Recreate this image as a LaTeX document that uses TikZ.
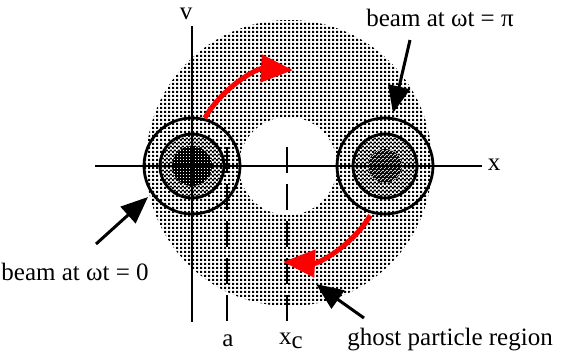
\documentclass[tikz,border=0pt]{standalone}
\usepackage{fontspec}
\setmainfont{Liberation Serif}
\usetikzlibrary{arrows.meta,patterns.meta}
\tikzdeclarepattern{
  name=sparsedots,
  type=colored,
  bottom left={(0pt,0pt)},
  top right={(4pt,4pt)},
  tile size={(4pt,4pt)},
  code={\fill[black] (0pt,0pt) rectangle (2.7pt,2.7pt);}
}
\tikzdeclarepattern{
  name=checkdots,
  type=colored,
  bottom left={(0pt,0pt)},
  top right={(4pt,4pt)},
  tile size={(4pt,4pt)},
  code={\fill[black] (0pt,0pt) rectangle (2.2pt,2.2pt);
        \fill[black] (2pt,2pt) rectangle (4.2pt,4.2pt);}
}
\tikzdeclarepattern{
  name=whitespecks,
  type=colored,
  bottom left={(0pt,0pt)},
  top right={(3pt,3pt)},
  tile size={(3pt,3pt)},
  code={\fill[white] (0pt,0pt) rectangle (1pt,1pt);}
}
\tikzdeclarepattern{
  name=whitehatch,
  type=colored,
  bottom left={(0pt,0pt)},
  top right={(4pt,4pt)},
  tile size={(4pt,4pt)},
  code={\draw[white,line width=0.8pt] (0pt,0pt) -- (4pt,4pt);}
}
\tikzset{
  lbl/.style={font=\fontsize{25}{29}\selectfont, inner sep=0pt},
  axisline/.style={line width=2.5pt},
  beamring/.style={line width=2.8pt},
  dashline/.style={line width=2.5pt, dash pattern=on 26pt off 11pt},
  redarrow/.style={red, line width=5pt, -{Triangle[length=32pt,width=27pt]}},
  blackarrow/.style={black, line width=3pt, -{Triangle[length=27pt,width=22pt]}}
}
\begin{document}
\begin{tikzpicture}[x=1pt,y=-1pt]
\useasboundingbox (0,0) rectangle (564,360);
% ghost particle region
\coordinate (cen) at (288,166);
\fill[pattern=sparsedots] (289,163) circle[radius=143];
\fill[white] (cen) circle[radius=49];
% left beam
\coordinate (lb) at (192,166);
\fill[white] (lb) circle[radius=48];
\fill[pattern=sparsedots] (lb) circle[radius=48];
\fill[white] (lb) circle[radius=32];
\fill[pattern=checkdots] (lb) circle[radius=32];
\fill[black] (lb) circle[radius=20];
\fill[pattern=whitespecks] (lb) circle[radius=20];
\draw[beamring] (lb) circle[radius=48];
\draw[beamring] (lb) circle[radius=32];
% right beam
\coordinate (rb) at (385,166);
\fill[white] (rb) circle[radius=48];
\fill[pattern=sparsedots] (rb) circle[radius=48];
\fill[white] (rb) circle[radius=32];
\fill[pattern=checkdots] (rb) circle[radius=32];
\fill[black] (rb) circle[radius=17];
\fill[pattern=whitehatch] (rb) circle[radius=17];
\draw[beamring] (rb) circle[radius=48];
\draw[beamring] (rb) circle[radius=32];
% dashed lines
\coordinate (atop) at (227,147);
\coordinate (abot) at (227,322);
\coordinate (ctop) at (287,147);
\coordinate (cbot) at (287,322);
\draw[dashline] (atop) -- (abot);
\draw[dashline] (ctop) -- (cbot);
% axes
\node[lbl] (v) at (186,14) {v};
\node[lbl] (x) at (494,165) {x};
\coordinate (vtop) at (192,26);
\coordinate (vbot) at (192,322);
\coordinate (xleft) at (95,166);
\coordinate (xright) at (482,166);
\draw[axisline] (vtop) -- (vbot);
\draw[axisline] (xleft) -- (xright);
% red arrows
\draw[redarrow] (cen) ++(-150:96) arc[start angle=-150, end angle=-87, radius=96];
\draw[redarrow] (cen) ++(31:96) arc[start angle=31, end angle=93, radius=96];
% labels
\node[lbl] (lpi) at (440,18) {beam at ωt = π};
\node[lbl] (lzero) at (75,272) {beam at ωt = 0};
\node[lbl] (lghost) at (450,340) {ghost particle region};
\node[lbl] (la) at (228,341) {a};
\node[lbl] (lxc) at (291,341) {x\raisebox{-0.4ex}{c}};
% black arrows
\coordinate (t1) at (410,40);
\coordinate (h1) at (393,113);
\coordinate (t2) at (96,244);
\coordinate (h2) at (148,197);
\coordinate (t3) at (364,318);
\coordinate (h3) at (316,284);
\draw[blackarrow] (t1) -- (h1);
\draw[blackarrow] (t2) -- (h2);
\draw[blackarrow] (t3) -- (h3);
\end{tikzpicture}
\end{document}
